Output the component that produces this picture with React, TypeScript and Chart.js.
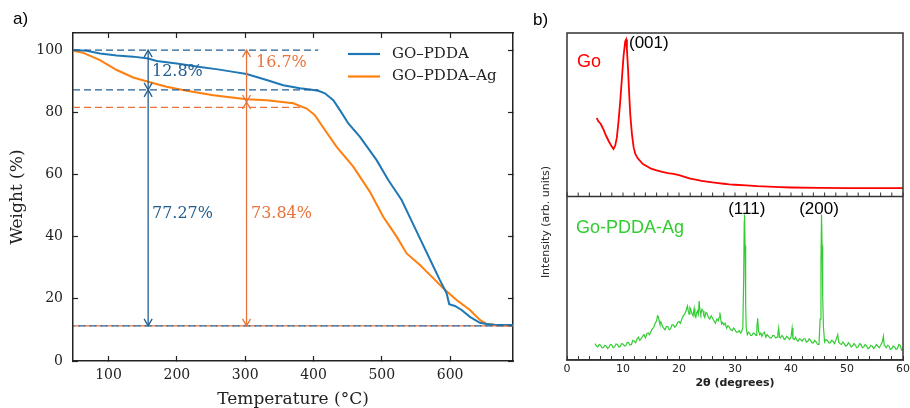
import React, { useEffect, useRef } from 'react';
import { Chart, registerables } from 'chart.js';
Chart.register(...registerables);

// ---------- Panel a: TGA ----------
const tempGoPdda = [48.4, 68, 87.5, 112, 136, 158, 170.5, 199.7, 233.8, 260, 282.6, 302, 331.4, 355.7, 380, 395, 407, 416.7, 429, 438.7, 451, 468, 492.4, 509.4, 529, 550, 570, 585, 594.8, 598.6, 607, 616.8, 629, 643.5, 653.3, 665, 680, 692];
const weightGoPdda = [100, 99.8, 98.9, 98.3, 97.9, 97.3, 96.5, 95.7, 94.6, 93.8, 93, 92.3, 90.4, 88.7, 87.7, 87.3, 86.9, 86.1, 83.9, 80.7, 76.4, 72.1, 64.6, 58.2, 51.8, 42.1, 32.9, 26, 21.8, 18.3, 17.7, 16.4, 14.2, 12.3, 11.9, 11.7, 11.6, 11.6];
const tempGoPddaAg = [48.4, 63, 87.5, 112, 136.2, 158, 185, 214.4, 253.3, 302, 331.4, 370.4, 390, 402, 416.7, 433.9, 458.2, 482.6, 502, 521.7, 536.3, 555.8, 570.4, 589.9, 609.4, 629, 643.6, 653.4, 670, 692];
const weightGoPddaAg = [99.8, 99.1, 96.8, 93.6, 91.2, 89.8, 88.2, 86.9, 85.5, 84.2, 83.9, 82.9, 81.2, 79.1, 74.3, 68.9, 62.5, 54.4, 46.4, 40, 34.6, 30.9, 27.7, 23.4, 19.6, 16.4, 13.2, 11.9, 11.5, 11.35];
const tempTicks = [100, 200, 300, 400, 500, 600];
const weightTicks = [0, 20, 40, 60, 80, 100];
const seriesNamesA = ['GO–PDDA', 'GO–PDDA–Ag'];
const lossLabels = ['12.8%', '77.27%', '16.7%', '73.84%'];

// ---------- Panel b: XRD ----------
const goAngle = [5.3, 5.6, 6, 6.5, 7, 7.5, 8, 8.3, 8.6, 8.9, 9.2, 9.5, 9.8, 10.1, 10.4, 10.55, 10.7, 10.9, 11.1, 11.3, 11.6, 11.9, 12.2, 12.6, 13, 13.5, 14, 14.5, 15, 16, 17, 18, 19, 20, 21, 22, 23, 24, 25, 26, 27, 28, 29, 30, 32, 34, 36, 38, 40, 45, 50, 55, 60];
const goIntensity = [48, 46, 44.5, 41, 37, 33.5, 30.5, 29, 31, 36, 46, 58, 72, 86, 95, 96, 90, 78, 63, 50, 38, 30, 26, 23.5, 22, 20, 19, 18, 17, 16, 15, 14.3, 13.8, 13, 12, 11, 10.3, 9.6, 9.1, 8.6, 8.2, 7.8, 7.4, 7.2, 6.8, 6.3, 6, 5.7, 5.5, 5.3, 5.1, 5.1, 5.1];
const agAngle = [
  5.0, 5.25, 5.5, 5.75, 6, 6.25, 6.5, 6.75, 7, 7.25,
  7.5, 7.75, 8, 8.25, 8.5, 8.75, 9, 9.25, 9.5, 9.75,
  10, 10.25, 10.5, 10.75, 11, 11.25, 11.5, 11.75, 12, 12.25,
  12.5, 12.75, 13, 13.25, 13.5, 13.75, 14, 14.25, 14.5, 14.75,
  15, 15.25, 15.5, 15.75, 16, 16.15, 16.3, 16.45, 16.6, 16.8,
  17, 17.25, 17.5, 17.75, 18, 18.25, 18.5, 18.75, 19, 19.25,
  19.5, 19.75, 20, 20.25, 20.5, 20.75, 21, 21.25, 21.5, 21.65,
  21.8, 21.95, 22.1, 22.3, 22.5, 22.7, 22.85, 23, 23.15, 23.3,
  23.45, 23.6, 23.75, 23.9, 24.1, 24.3, 24.45, 24.6, 24.8, 25,
  25.25, 25.5, 25.75, 26, 26.25, 26.5, 26.75, 27, 27.15, 27.3,
  27.45, 27.6, 27.8, 28, 28.25, 28.5, 28.75, 29, 29.25, 29.5,
  29.75, 30, 30.25, 30.5, 30.75, 31, 31.2, 31.4, 31.55, 31.65,
  31.7, 31.8, 31.9, 32, 32.2, 32.4, 32.6, 32.8, 33, 33.25,
  33.5, 33.75, 33.9, 34.05, 34.2, 34.4, 34.6, 34.8, 35, 35.25,
  35.5, 35.75, 36, 36.25, 36.5, 36.75, 37, 37.25, 37.5, 37.65,
  37.8, 37.95, 38.1, 38.4, 38.6, 38.8, 39, 39.25, 39.5, 39.75,
  40, 40.2, 40.35, 40.6, 40.8, 41, 41.25, 41.5, 41.75, 42,
  42.25, 42.5, 42.75, 43, 43.25, 43.5, 43.75, 44, 44.25, 44.5,
  44.75, 45, 45.2, 45.35, 45.45, 45.55, 45.6, 45.7, 45.8, 46,
  46.25, 46.5, 46.75, 47, 47.25, 47.5, 47.75, 48, 48.2, 48.35,
  48.5, 48.75, 49, 49.25, 49.5, 49.75, 50, 50.25, 50.5, 50.75,
  51, 51.25, 51.5, 51.75, 52, 52.25, 52.5, 52.75, 53, 53.25,
  53.5, 53.75, 54, 54.25, 54.5, 54.75, 55, 55.25, 55.5, 55.75,
  56, 56.3, 56.5, 56.65, 56.8, 57, 57.25, 57.5, 57.75, 58,
  58.25, 58.5, 58.75, 59, 59.25, 59.5, 59.75, 60,
];
const agIntensity = [
  10, 8.5, 8, 9.5, 9, 7.5, 7.5, 9, 8.5, 7,
  7.8, 9.5, 9.2, 7.5, 8, 9.8, 9.5, 8, 8.3, 10,
  9.8, 8.5, 8.8, 10.8, 10.5, 9.2, 9.5, 12, 11.5, 10.5,
  12.8, 14, 12, 13, 14.5, 15.5, 13.5, 16, 16.5, 15.5,
  17.5, 19, 20, 22.5, 24, 27, 26.5, 24, 22, 23,
  21, 19.5, 18.5, 20.5, 20.5, 18.5, 19, 21.5, 21.5, 20,
  21, 23, 23.5, 22.5, 25, 27, 28, 30, 33, 30,
  28, 32, 31, 28.5, 27, 31.5, 27, 26, 29, 30,
  28, 36, 30, 28, 31, 30, 27, 26, 29, 28.5,
  26, 25, 27, 25.5, 24, 22.5, 25, 24, 26, 29,
  25, 22, 23, 21.5, 22.5, 19.5, 21, 20, 18.5, 18,
  19.5, 18.5, 17, 17, 18, 16.5, 17.5, 20, 50, 85,
  89, 70, 35, 20, 15.5, 17, 16.5, 15, 15, 16.5,
  16, 15, 20, 25.5, 18, 15.5, 16.5, 14.5, 16, 17,
  14, 15.5, 14.5, 13.5, 13.5, 15, 15, 13.5, 14, 16,
  19.5, 14, 13.5, 15, 14, 12.5, 13, 14.5, 13.5, 12.5,
  14, 19.5, 13, 12.5, 14, 12.5, 11.5, 13, 12.5, 11.5,
  13, 13, 11, 11.5, 13, 12, 10.5, 10.5, 12, 11,
  9.5, 9.5, 25, 60, 89, 70, 55, 40, 20, 11,
  12.5, 12, 10.5, 10.5, 12, 11.5, 10, 12, 14, 15.5,
  11, 10, 9.5, 11, 10, 8.5, 9, 10.5, 9.5, 8,
  8.5, 10, 9, 7.5, 8, 10, 9.5, 7.5, 8, 9.5,
  8.5, 7, 7.5, 9, 8.5, 7, 8, 9.5, 8.5, 7.5,
  9, 11, 14.5, 9, 8.5, 7.5, 9, 8.5, 6.5, 7,
  8.5, 8, 6.5, 7, 9.5, 9, 6, 6.5,
];
const seriesNamesB = ['Go', 'Go-PDDA-Ag'];
const peakLabels = ['(001)', '(111)', '(200)'];

const SERIF = "'DejaVu Serif', serif";
const SANS = "'DejaVu Sans', sans-serif";
const ARIAL = "'Liberation Sans', Arial, sans-serif";
const BLUE = '#1f77b4';
const ORANGE = '#ff7f0e';
const ABLUE = '#245f92';
const AORANGE = '#e8743c';
const AXIS = '#222';

function drawArrow(ctx: CanvasRenderingContext2D, x: number, yTop: number, yBot: number, color: string) {
  ctx.save();
  ctx.strokeStyle = color;
  ctx.lineWidth = 1.3;
  ctx.setLineDash([]);
  ctx.beginPath();
  ctx.moveTo(x, yTop);
  ctx.lineTo(x, yBot);
  ctx.stroke();
  const hl = 7, hw = 4;
  ctx.beginPath();
  ctx.moveTo(x - hw, yTop + hl); ctx.lineTo(x, yTop); ctx.lineTo(x + hw, yTop + hl);
  ctx.moveTo(x - hw, yBot - hl); ctx.lineTo(x, yBot); ctx.lineTo(x + hw, yBot - hl);
  ctx.stroke();
  ctx.restore();
}

function dashed(ctx: CanvasRenderingContext2D, x1: number, x2: number, y: number, color: string, offset = 0) {
  ctx.save();
  ctx.strokeStyle = color;
  ctx.lineWidth = 1.3;
  ctx.setLineDash([7, 4]);
  ctx.lineDashOffset = offset;
  ctx.beginPath();
  ctx.moveTo(x1, y);
  ctx.lineTo(x2, y);
  ctx.stroke();
  ctx.restore();
}

const annotateA = {
  id: 'annotateA',
  afterDatasetsDraw(chart: any) {
    const { ctx, scales } = chart;
    const X = (v: number) => scales.x.getPixelForValue(v);
    const Y = (v: number) => scales.y.getPixelForValue(v);
    const ca = chart.chartArea;
    dashed(ctx, ca.left, X(407), Y(100), ABLUE);
    dashed(ctx, ca.left, X(407), Y(87.2), ABLUE);
    dashed(ctx, ca.left, X(382), Y(81.6), AORANGE);
    dashed(ctx, ca.left, ca.right, Y(11.3), AORANGE, 0);
    dashed(ctx, ca.left, ca.right, Y(11.3), ABLUE, 5.5);
    drawArrow(ctx, X(158), Y(100), Y(87.2), ABLUE);
    drawArrow(ctx, X(158), Y(87.2), Y(11.3), ABLUE);
    drawArrow(ctx, X(302), Y(100), Y(83.3), AORANGE);
    drawArrow(ctx, X(302), Y(83.3), Y(11.3), AORANGE);
    ctx.save();
    ctx.font = `16px ${SERIF}`;
    ctx.textAlign = 'left';
    ctx.textBaseline = 'middle';
    ctx.fillStyle = ABLUE;
    ctx.fillText(lossLabels[0], X(163.6), Y(92.9));
    ctx.fillText(lossLabels[1], X(163.6), Y(47.3));
    ctx.fillStyle = AORANGE;
    ctx.fillText(lossLabels[2], X(315.8), Y(95.8));
    ctx.fillText(lossLabels[3], X(308.5), Y(47.3));
    ctx.font = `15px ${SERIF}`;
    const cols = [BLUE, ORANGE];
    [54, 76.5].forEach((ly, i) => {
      ctx.strokeStyle = cols[i];
      ctx.lineWidth = 2.2;
      ctx.beginPath();
      ctx.moveTo(348, ly);
      ctx.lineTo(380, ly);
      ctx.stroke();
      ctx.fillStyle = '#222';
      ctx.fillText(seriesNamesA[i], 392, ly);
    });
    ctx.font = `17px ${ARIAL}`;
    ctx.fillStyle = '#000';
    ctx.fillText('a)', 13, 19);
    ctx.restore();
  },
};

const annotateB = {
  id: 'annotateB',
  afterDatasetsDraw(chart: any) {
    const { ctx, scales } = chart;
    const ca = chart.chartArea;
    const X = (v: number) => scales.x.getPixelForValue(v);
    const YT = (v: number) => scales.yTop.getPixelForValue(v);
    const YB = (v: number) => scales.yBot.getPixelForValue(v);
    const sep = scales.yTop.bottom;
    ctx.save();
    ctx.strokeStyle = '#333';
    ctx.lineWidth = 1.5;
    ctx.strokeRect(ca.left, ca.top, ca.right - ca.left, ca.bottom - ca.top);
    ctx.beginPath();
    ctx.moveTo(ca.left, sep);
    ctx.lineTo(ca.right, sep);
    ctx.stroke();
    ctx.lineWidth = 1;
    ctx.beginPath();
    scales.x.ticks.forEach((t: any) => {
      const px = X(t.value);
      ctx.moveTo(px, sep);
      ctx.lineTo(px, sep - 4);
    });
    ctx.stroke();
    ctx.textBaseline = 'middle';
    ctx.textAlign = 'left';
    ctx.font = `17px ${ARIAL}`;
    ctx.fillStyle = '#000';
    ctx.fillText(peakLabels[0], X(11.07), YT(93.9));
    ctx.textAlign = 'center';
    ctx.fillText(peakLabels[1], X(32.1), YB(92));
    ctx.fillText(peakLabels[2], X(45), YB(92));
    ctx.textAlign = 'left';
    ctx.font = `18px ${ARIAL}`;
    ctx.fillStyle = '#ff0000';
    ctx.fillText(seriesNamesB[0], X(1.8), YT(82.2));
    ctx.fillStyle = '#33cc33';
    ctx.fillText(seriesNamesB[1], X(1.6), YB(80.5));
    ctx.save();
    ctx.translate(16, 222);
    ctx.rotate(-Math.PI / 2);
    ctx.textAlign = 'center';
    ctx.font = `11px ${SANS}`;
    ctx.fillStyle = '#222';
    ctx.fillText('Intensity (arb. units)', 0, 0);
    ctx.restore();
    ctx.textAlign = 'left';
    ctx.font = `17px ${ARIAL}`;
    ctx.fillStyle = '#000';
    ctx.fillText('b)', 3, 20);
    ctx.restore();
  },
};

export default function App() {
  const refA = useRef<HTMLCanvasElement>(null);
  const refB = useRef<HTMLCanvasElement>(null);
  useEffect(() => {
    const inwardGrid = { drawOnChartArea: false, tickLength: -5, color: AXIS, tickWidth: 1.2 };
    const border = { display: true, color: AXIS, width: 1.5 };
    const chartA = new Chart(refA.current!, {
      type: 'line',
      data: {
        datasets: [
          {
            label: seriesNamesA[0],
            data: tempGoPdda.map((t, i) => ({ x: t, y: weightGoPdda[i] })),
            borderColor: BLUE, borderWidth: 2, pointRadius: 0, tension: 0,
          },
          {
            label: seriesNamesA[1],
            data: tempGoPddaAg.map((t, i) => ({ x: t, y: weightGoPddaAg[i] })),
            borderColor: ORANGE, borderWidth: 2, pointRadius: 0, tension: 0,
          },
        ],
      },
      options: {
        animation: false,
        responsive: false,
        devicePixelRatio: 1,
        layout: { padding: { left: 0, top: 33, right: 17, bottom: 0 } },
        plugins: { legend: { display: false }, tooltip: { enabled: false } },
        scales: {
          x: {
            type: 'linear', position: 'bottom', min: 48, max: 692,
            afterBuildTicks: (s: any) => { s.ticks = tempTicks.map((v) => ({ value: v })); },
            afterFit: (s: any) => { s.height = 47; s.paddingLeft = 0; s.paddingRight = 0; },
            grid: inwardGrid, border,
            ticks: { font: { family: SERIF, size: 14 }, color: '#222', padding: 11, maxRotation: 0, autoSkip: false },
            title: { display: true, text: 'Temperature (°C)', font: { family: SERIF, size: 17, lineHeight: 1 }, color: '#222', padding: { top: 0, bottom: 0 } },
          },
          x2: {
            type: 'linear', position: 'top', min: 48, max: 692,
            afterBuildTicks: (s: any) => { s.ticks = tempTicks.map((v) => ({ value: v })); },
            afterFit: (s: any) => { s.height = 0; s.paddingLeft = 0; s.paddingRight = 0; },
            grid: inwardGrid, border, ticks: { display: false },
          },
          y: {
            type: 'linear', position: 'left', min: 0, max: 105.5,
            afterBuildTicks: (s: any) => { s.ticks = weightTicks.map((v) => ({ value: v })); },
            afterFit: (s: any) => { s.width = 73; },
            grid: inwardGrid, border,
            ticks: { font: { family: SERIF, size: 14 }, color: '#222', padding: 15 },
            title: { display: true, text: 'Weight (%)', font: { family: SERIF, size: 17, lineHeight: 1 }, color: '#222', padding: { top: 9.5, bottom: 0 } },
          },
          y2: {
            type: 'linear', position: 'right', min: 0, max: 105.5,
            afterBuildTicks: (s: any) => { s.ticks = weightTicks.map((v) => ({ value: v })); },
            afterFit: (s: any) => { s.width = 0; },
            grid: inwardGrid, border, ticks: { display: false },
          },
        },
      },
      plugins: [annotateA],
    } as any);

    const hidden = { display: false };
    const chartB = new Chart(refB.current!, {
      type: 'line',
      data: {
        datasets: [
          {
            label: seriesNamesB[0],
            data: goAngle.map((a, i) => ({ x: a, y: goIntensity[i] })),
            borderColor: '#ff0000', borderWidth: 1.8, pointRadius: 0, tension: 0, yAxisID: 'yTop',
          },
          {
            label: seriesNamesB[1],
            data: agAngle.map((a, i) => ({ x: a, y: agIntensity[i] })),
            borderColor: '#33cc33', borderWidth: 1.2, pointRadius: 0, tension: 0, yAxisID: 'yBot',
          },
        ],
      },
      options: {
        animation: false,
        responsive: false,
        devicePixelRatio: 1,
        layout: { padding: { left: 0, top: 33, right: 7, bottom: 0 } },
        plugins: { legend: { display: false }, tooltip: { enabled: false } },
        scales: {
          x: {
            type: 'linear', position: 'bottom', min: 0, max: 60,
            afterFit: (s: any) => { s.height = 48; s.paddingLeft = 0; s.paddingRight = 0; },
            grid: { drawOnChartArea: false, tickLength: -4, color: '#333', tickWidth: 1 },
            border: { display: true, color: '#333', width: 1.5 },
            ticks: {
              stepSize: 2, autoSkip: false, maxRotation: 0, padding: 6.5,
              font: { family: SANS, size: 11 }, color: '#222',
              callback: (v: any) => (Number(v) % 10 === 0 ? String(v) : ''),
            },
            title: { display: true, text: '2θ (degrees)', font: { family: SANS, size: 11, weight: 'bold', lineHeight: 1 }, color: '#222', padding: { top: 0, bottom: 19.5 } },
          },
          yBot: {
            type: 'linear', position: 'left', stack: 'xrd', stackWeight: 1, min: 0, max: 100,
            afterFit: (s: any) => { s.width = 37; },
            grid: hidden, border: hidden, ticks: { display: false },
          },
          yTop: {
            type: 'linear', position: 'left', stack: 'xrd', stackWeight: 1, min: 0, max: 100,
            afterFit: (s: any) => { s.width = 37; },
            grid: hidden, border: hidden, ticks: { display: false },
          },
        },
      },
      plugins: [annotateB],
    } as any);
    return () => { chartA.destroy(); chartB.destroy(); };
  }, []);
  return (
    <div style={{ position: 'fixed', left: 0, top: 0, width: 910, height: 408, background: '#fff' }}>
      <canvas ref={refA} width={530} height={408} style={{ position: 'absolute', left: 0, top: 0 }} />
      <canvas ref={refB} width={380} height={408} style={{ position: 'absolute', left: 530, top: 0 }} />
    </div>
  );
}
